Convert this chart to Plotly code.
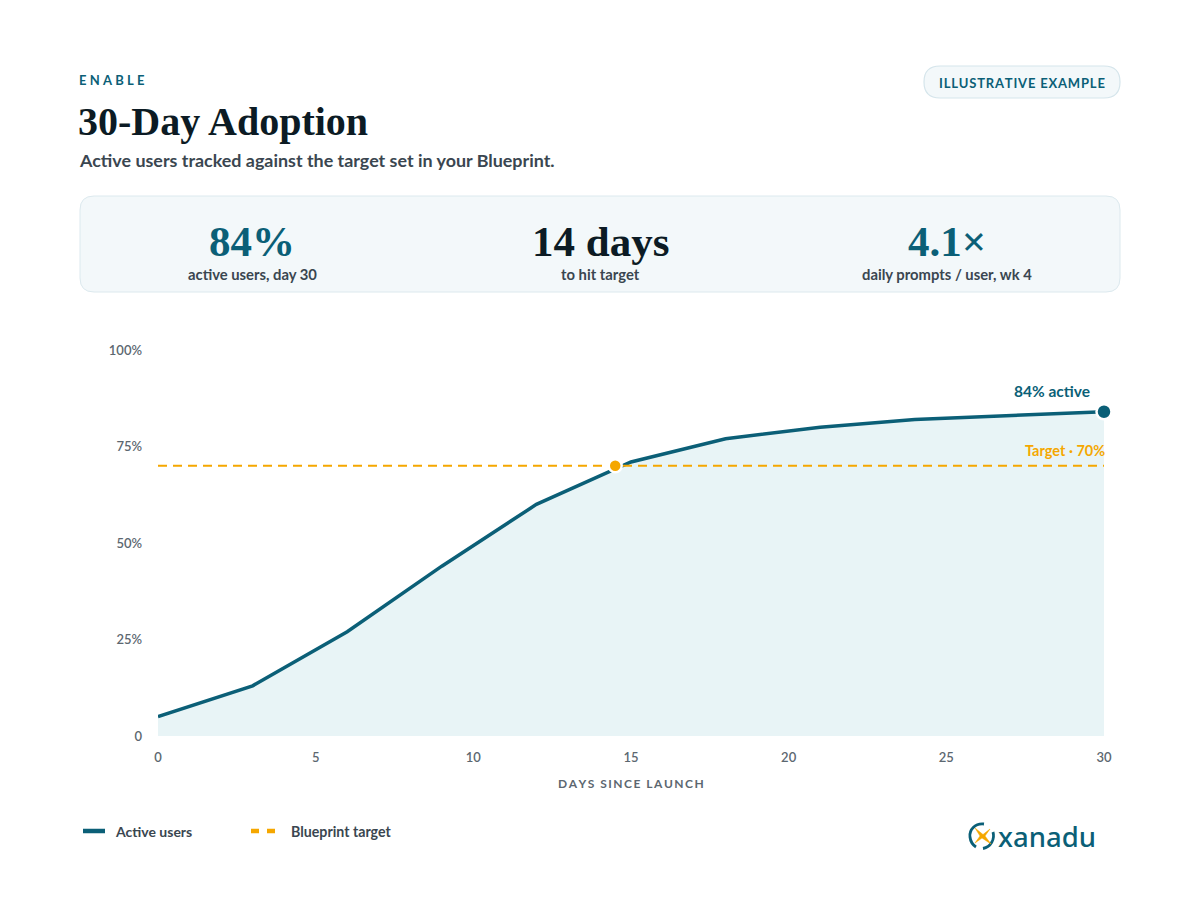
import plotly.graph_objects as go

# ---- data ----
days = [0, 3, 6, 9, 12, 15, 18, 21, 24, 30]
active_pct = [5, 13, 27, 44, 60, 71, 77, 80, 82, 84]
target_pct = 70
target_hit_day = 14.5
x_ticks = [0, 5, 10, 15, 20, 25, 30]
y_ticks = [0, 25, 50, 75, 100]
y_tick_labels = ["0", "25%", "50%", "75%", "100%"]
kpi_values = ["84%", "14 days", "4.1×"]
kpi_labels = ["active users, day 30", "to hit target", "daily prompts / user, wk 4"]

W, H = 1200, 900
TEAL = "#0b5f77"
ORANGE = "#f5a700"
DARK = "#0c1b24"
GRAY = "#3a4650"
TICK = "#5c6770"
FILL = "#e8f4f6"
SANS = "Lato, 'Noto Sans', sans-serif"
SERIF = "'Liberation Serif', 'DejaVu Serif', serif"


def px(x):
    return x / W


def py(y):
    return 1 - y / H


def spaced(s, sep="\u2009"):
    return sep.join(list(s))


def rrect(x0, y0, x1, y1, r):
    pts = [
        f"M {px(x0 + r)} {py(y0)}",
        f"L {px(x1 - r)} {py(y0)}",
        f"Q {px(x1)} {py(y0)} {px(x1)} {py(y0 + r)}",
        f"L {px(x1)} {py(y1 - r)}",
        f"Q {px(x1)} {py(y1)} {px(x1 - r)} {py(y1)}",
        f"L {px(x0 + r)} {py(y1)}",
        f"Q {px(x0)} {py(y1)} {px(x0)} {py(y1 - r)}",
        f"L {px(x0)} {py(y0 + r)}",
        f"Q {px(x0)} {py(y0)} {px(x0 + r)} {py(y0)}",
        "Z",
    ]
    return " ".join(pts)


fig = go.Figure()

fig.add_trace(go.Scatter(
    x=days, y=active_pct, mode="lines", fill="tozeroy", fillcolor=FILL,
    line=dict(color=TEAL, width=3.5), hoverinfo="skip", showlegend=False,
))
fig.add_trace(go.Scatter(
    x=[days[0], days[-1]], y=[target_pct, target_pct], mode="lines",
    line=dict(color=ORANGE, width=2, dash="9px,6px"), hoverinfo="skip", showlegend=False,
))
fig.add_trace(go.Scatter(
    x=[target_hit_day], y=[target_pct], mode="markers",
    marker=dict(size=13, color=ORANGE, line=dict(color="white", width=2.5)),
    cliponaxis=False, hoverinfo="skip", showlegend=False,
))
fig.add_trace(go.Scatter(
    x=[days[-1]], y=[active_pct[-1]], mode="markers",
    marker=dict(size=15, color=TEAL, line=dict(color="white", width=2.5)),
    cliponaxis=False, hoverinfo="skip", showlegend=False,
))

shapes = []
# KPI panel
shapes.append(dict(type="path", xref="paper", yref="paper", path=rrect(80, 196, 1120, 292, 14),
                   fillcolor="#f3f8fa", line=dict(color="#dce9ee", width=1), layer="below"))
# pill
shapes.append(dict(type="path", xref="paper", yref="paper", path=rrect(924, 66, 1120, 98, 16),
                   fillcolor="#f3f8fa", line=dict(color="#d5e5eb", width=1.2), layer="below"))
# legend: active users
shapes.append(dict(type="line", xref="paper", yref="paper", x0=px(83), x1=px(105), y0=py(831), y1=py(831),
                   line=dict(color=TEAL, width=4.5)))
# legend: target (two dashes)
for a, b in [(251, 259), (267, 275)]:
    shapes.append(dict(type="line", xref="paper", yref="paper", x0=px(a), x1=px(b), y0=py(831), y1=py(831),
                       line=dict(color=ORANGE, width=4.5)))
# logo ring (two open arcs)
shapes.append(dict(type="path", xref="paper", yref="paper",
                   path=(f"M {px(984)} {py(824)} C {px(975)} {py(823)} {px(969)} {py(830)} {px(970)} {py(837)} "
                         f"C {px(970.5)} {py(842)} {px(973)} {py(845)} {px(976)} {py(847)}"),
                   line=dict(color=TEAL, width=2.8)))
shapes.append(dict(type="path", xref="paper", yref="paper",
                   path=(f"M {px(993)} {py(832)} C {px(995)} {py(839)} {px(991)} {py(847)} {px(983)} {py(848.5)}"),
                   line=dict(color=TEAL, width=2.8)))
# logo orange x
shapes.append(dict(type="path", xref="paper", yref="paper",
                   path=(f"M {px(975)} {py(828)} L {px(983)} {py(834.5)} L {px(990)} {py(829)} "
                         f"L {px(985)} {py(836)} L {px(991)} {py(844)} L {px(982)} {py(838)} "
                         f"L {px(975)} {py(843)} L {px(980)} {py(836)} Z"),
                   fillcolor=ORANGE, line=dict(color=ORANGE, width=0.5)))

ann = []


def text(x, y, s, size, color, family=SANS, anchor="left", weight=None, **kw):
    f = dict(size=size, color=color, family=family)
    if weight:
        f["weight"] = weight
    ann.append(dict(xref="paper", yref="paper", x=px(x), y=py(y), text=s, showarrow=False,
                    xanchor=anchor, yanchor="middle", font=f, **kw))


text(77, 80, spaced("ENABLE", "\u2009\u2009"), 13, TEAL, weight=700)
text(76, 121, "30-Day Adoption", 40, DARK, family=SERIF, weight=700)
text(77, 160, "Active users tracked against the target set in your Blueprint.", 17.9, GRAY, weight=700)
text(1022, 83, spaced("ILLUSTRATIVE EXAMPLE", "\u200a"), 13, TEAL, anchor="center", weight=700)

kpi_x = [252, 600, 947]
kpi_col = [TEAL, DARK, TEAL]
for xx, v, lab, c in zip(kpi_x, kpi_values, kpi_labels, kpi_col):
    text(xx, 241, v, 43, c, family=SERIF, anchor="center", weight=700)
    text(xx, 274, lab, 14.8, GRAY, anchor="center", weight=700)

text(631, 783, spaced("DAYS SINCE LAUNCH", "\u2009"), 12, TICK, anchor="center", weight=700)

text(113, 831, "Active users", 14, GRAY, weight=700)
text(289, 831, "Blueprint target", 14.2, GRAY, weight=700)
text(996, 836, "xanadu", 27.5, TEAL, family="'Noto Sans', sans-serif", weight=500)

# data annotations
ann.append(dict(x=days[-1], y=active_pct[-1], xref="x", yref="y", text="84% active", showarrow=False,
                xanchor="right", yanchor="middle", xshift=-12, yshift=21,
                font=dict(size=15.5, color=TEAL, family=SANS, weight=700)))
ann.append(dict(x=days[-1], y=target_pct, xref="x", yref="y", text="Target · 70%", showarrow=False,
                xanchor="right", yanchor="middle", xshift=3, yshift=15,
                font=dict(size=14.5, color=ORANGE, family=SANS, weight=700)))

fig.update_layout(
    width=W, height=H, margin=dict(l=0, r=0, t=0, b=0, autoexpand=False),
    paper_bgcolor="white", plot_bgcolor="white",
    shapes=shapes, annotations=ann, showlegend=False,
    xaxis=dict(domain=[px(158), px(1104)], range=[0, 30], tickvals=x_ticks, showgrid=False,
               zeroline=False, showline=False, ticks="", ticklabelstandoff=12, automargin=False,
               tickfont=dict(size=13, color=TICK, family=SANS, weight=600), fixedrange=True),
    yaxis=dict(domain=[py(736), py(350)], range=[0, 100], tickvals=y_ticks, ticktext=y_tick_labels,
               showgrid=False, zeroline=False, showline=False, ticks="", ticklabelstandoff=15,
               automargin=False,
               tickfont=dict(size=13, color=TICK, family=SANS, weight=600), fixedrange=True),
)

fig.write_html("out.html")
